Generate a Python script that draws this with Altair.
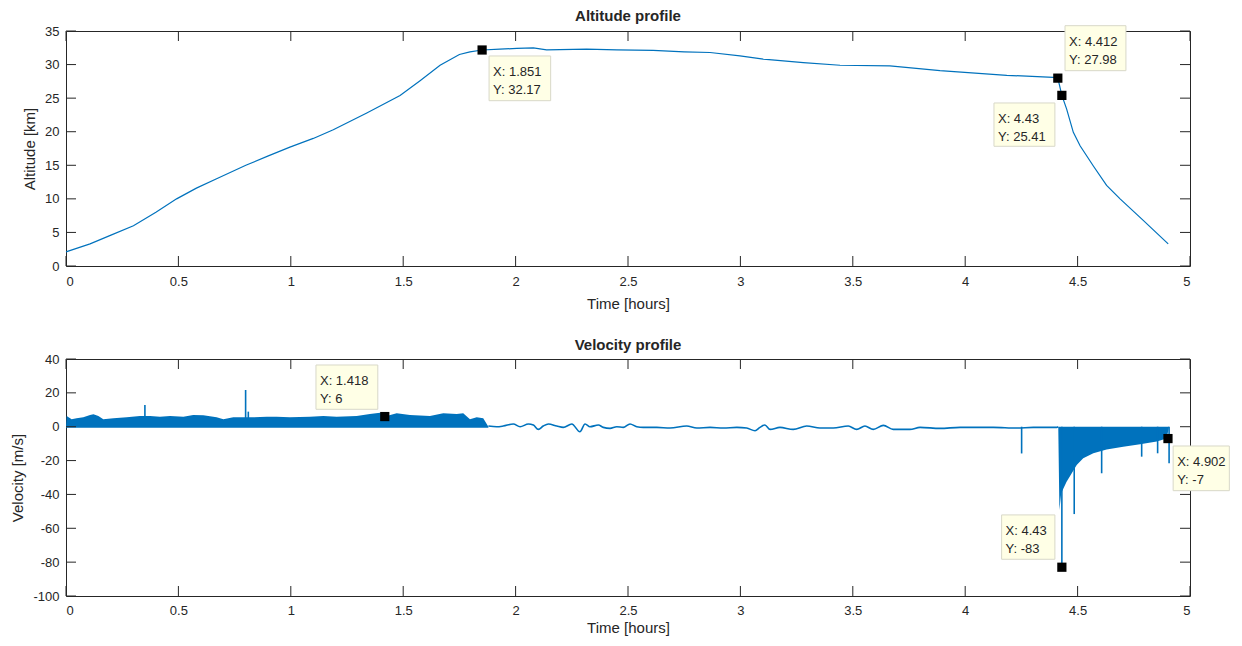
import altair as alt
import pandas as pd

# ---------------- data ----------------
# Altitude profile (time in hours, altitude in km)
alt_t = [0.0, 0.107, 0.2, 0.3, 0.4, 0.492, 0.58, 0.67, 0.8, 0.9, 0.996, 1.1, 1.189,
         1.338, 1.486, 1.575, 1.664, 1.75, 1.797, 1.851, 1.93, 2.005, 2.079, 2.138,
         2.316, 2.45, 2.612, 2.75, 2.865, 2.998, 3.102, 3.28, 3.443, 3.665, 3.888,
         4.185, 4.392, 4.412, 4.43, 4.451, 4.481, 4.511, 4.57, 4.629, 4.689, 4.792, 4.903]
alt_km = [2.1, 3.3, 4.6, 6.0, 8.0, 10.0, 11.6, 13.0, 15.0, 16.4, 17.7, 19.0, 20.3,
          22.8, 25.4, 27.6, 29.9, 31.5, 31.9, 32.17, 32.3, 32.4, 32.5, 32.2,
          32.3, 32.2, 32.1, 31.9, 31.8, 31.3, 30.8, 30.3, 29.9, 29.8, 29.1,
          28.4, 28.1, 27.98, 25.41, 23.4, 19.9, 17.9, 14.9, 12.0, 10.0, 6.8, 3.3]

# Velocity, ascent phase: upper envelope of the dense oscillation band (m/s)
velA_t = [0.0, 0.003, 0.025, 0.047, 0.077, 0.107, 0.122, 0.144, 0.166, 0.211, 0.270,
          0.329, 0.374, 0.418, 0.463, 0.522, 0.566, 0.611, 0.670, 0.700, 0.744, 0.774,
          0.833, 0.893, 0.937, 0.996, 1.085, 1.145, 1.204, 1.293, 1.352, 1.397, 1.418,
          1.471, 1.530, 1.619, 1.678, 1.738, 1.767, 1.797, 1.827, 1.856, 1.879]
velA_hi = [0.0, 6.3, 4.4, 5.0, 5.6, 6.9, 7.3, 6.3, 4.4, 5.0, 5.6,
           6.3, 6.3, 5.9, 6.3, 5.9, 6.9, 6.7, 5.6, 4.4, 5.6, 5.6,
           5.6, 5.9, 5.9, 5.6, 5.9, 6.3, 5.9, 6.3, 7.5, 8.3, 6.0,
           7.9, 6.9, 6.3, 7.9, 7.5, 7.9, 4.4, 5.6, 5.0, 0.0]

# Velocity, float phase (thin line)
velB_t = [1.879, 1.916, 1.945, 1.990, 2.020, 2.057, 2.079, 2.101, 2.123, 2.146, 2.183,
          2.212, 2.250, 2.286, 2.309, 2.331, 2.368, 2.390, 2.420, 2.450, 2.479, 2.509,
          2.539, 2.568, 2.628, 2.687, 2.761, 2.806, 2.865, 2.924, 2.984, 3.028, 3.065,
          3.087, 3.109, 3.132, 3.176, 3.235, 3.295, 3.354, 3.413, 3.480, 3.517, 3.554,
          3.591, 3.636, 3.680, 3.754, 3.799, 3.888, 3.977, 4.125, 4.229, 4.303, 4.407, 4.414]
velB_v = [0.4, 0.0, 0.4, 1.6, 0.0, 1.6, 1.0, -1.6, 0.4, 1.6, 0.4,
          -0.4, 1.6, -3.0, 1.6, 0.0, 1.0, -0.4, -1.0, 0.0, -0.4, 1.6,
          0.0, -0.4, -0.4, -0.8, 0.4, -0.8, -0.4, -0.8, -0.4, -0.8, -2.4,
          -0.4, 1.0, -1.6, -0.4, -1.6, 0.4, -0.8, -0.8, 0.4, -1.6, 0.4,
          -1.6, 0.8, -1.6, -1.6, -0.4, -1.0, -0.4, -0.4, -0.8, -0.4, -0.4, 0.0]

# Velocity, descent phase: lower envelope of the dense band (m/s)
velC_t = [4.414, 4.419, 4.427, 4.451, 4.474, 4.496, 4.525, 4.570, 4.629, 4.703,
          4.778, 4.852, 4.896, 4.907]
velC_lo = [0.0, -49.2, -39.3, -32.5, -27.5, -22.6, -18.7, -15.7, -13.4, -11.8,
           -10.4, -8.8, -6.9, 0.0]

# Isolated spikes (time, start, end)
spike_t = [0.351, 0.799, 0.811, 4.251, 4.430, 4.485, 4.607, 4.785, 4.856, 4.907]
spike_from = [5.0, 5.0, 5.0, 0.0, 0.0, 0.0, 0.0, 0.0, 0.0, 0.0]
spike_to = [12.8, 21.7, 8.9, -15.8, -83.0, -51.6, -27.5, -17.7, -15.7, -21.6]

# Data tips: point and the label box corners (data units)
tipA_x = [1.851, 4.412, 4.43]
tipA_y = [32.17, 27.98, 25.41]
tipA_label = ["X: 1.851\nY: 32.17", "X: 4.412\nY: 27.98", "X: 4.43\nY: 25.41"]
tipA_bx0 = [1.882, 4.444, 4.128]
tipA_bx1 = [2.156, 4.715, 4.399]
tipA_by0 = [31.28, 35.79, 24.28]
tipA_by1 = [24.62, 29.09, 17.83]

tipV_x = [1.418, 4.43, 4.902]
tipV_y = [6, -83, -7]
tipV_label = ["X: 1.418\nY: 6", "X: 4.43\nY: -83", "X: 4.902\nY: -7"]
tipV_bx0 = [1.112, 4.162, 4.925]
tipV_bx1 = [1.387, 4.399, 5.175]
tipV_by0 = [36.46, -52.1, -11.39]
tipV_by1 = [10.29, -78.3, -37.79]

x_ticks = [0, 0.5, 1, 1.5, 2, 2.5, 3, 3.5, 4, 4.5, 5]
altitude_ticks = [0, 5, 10, 15, 20, 25, 30, 35]
velocity_ticks = [-100, -80, -60, -40, -20, 0, 20, 40]

# ---------------- styling ----------------
W = 1124
H1 = 235
H2 = 237
TL = 10
BLUE = "#0072BD"
INK = "#262626"
FONT = "Liberation Sans"
TIP_FILL = "#FFFFE6"
TIP_STROKE = "#D8D8C8"

xscale = alt.Scale(domain=[0, 5], nice=False, zero=False)


def xaxis(label_pad, title_pad):
    return alt.Axis(values=x_ticks, title="Time [hours]", ticks=False, tickSize=0,
                    domain=False, grid=False, labelPadding=label_pad,
                    titlePadding=title_pad, labelExpr="'' + datum.value")


def yaxis(vals, title):
    return alt.Axis(values=vals, title=title, ticks=False, tickSize=0, domain=False,
                    grid=False, labelPadding=7, titlePadding=7,
                    labelExpr="'' + datum.value")


def make_panel(yscale, xax, yax):
    def X(f):
        return alt.X(f, scale=xscale, axis=xax)

    def Y(f):
        return alt.Y(f, scale=yscale, axis=yax)
    return X, Y


def tick_layers(X, Y, yvals, H):
    xdf = pd.DataFrame({"tx": x_ticks})
    ydf = pd.DataFrame({"ty": yvals})
    rule = dict(color=INK, strokeWidth=1)
    return [
        alt.Chart(xdf).mark_rule(**rule).encode(x=X("tx:Q"), y=alt.value(0), y2=alt.value(TL)),
        alt.Chart(xdf).mark_rule(**rule).encode(x=X("tx:Q"), y=alt.value(H), y2=alt.value(H - TL)),
        alt.Chart(ydf).mark_rule(**rule).encode(y=Y("ty:Q"), x=alt.value(0), x2=alt.value(TL)),
        alt.Chart(ydf).mark_rule(**rule).encode(y=Y("ty:Q"), x=alt.value(W - TL), x2=alt.value(W)),
    ]


def tip_layers(X, Y, xs, ys, labels, bx0, bx1, by0, by1):
    df = pd.DataFrame({"x": xs, "y": ys, "label": labels,
                       "bx0": bx0, "bx1": bx1, "by0": by0, "by1": by1})
    box = alt.Chart(df).mark_rect(fill=TIP_FILL, stroke=TIP_STROKE, strokeWidth=1).encode(
        x=X("bx0:Q"), x2="bx1:Q", y=Y("by0:Q"), y2="by1:Q")
    txt = alt.Chart(df).mark_text(align="left", baseline="top", dx=4, dy=10,
                                  fontSize=13, font=FONT, color=INK,
                                  lineBreak="\n", lineHeight=18).encode(
        x=X("bx0:Q"), y=Y("by0:Q"), text="label:N")
    pt = alt.Chart(df).mark_point(shape="square", filled=True, color="black",
                                  size=85, opacity=1).encode(x=X("x:Q"), y=Y("y:Q"))
    return [box, txt, pt]


# ---------------- altitude panel ----------------
yscale_a = alt.Scale(domain=[0, 35], nice=False, zero=False)
XA, YA = make_panel(yscale_a, xaxis(9, 8), yaxis(altitude_ticks, "Altitude [km]"))
alt_df = pd.DataFrame({"t": alt_t, "km": alt_km})
alt_line = alt.Chart(alt_df).mark_line(color=BLUE, strokeWidth=1.2).encode(
    x=XA("t:Q"), y=YA("km:Q"))

top = alt.layer(
    alt_line,
    *tick_layers(XA, YA, altitude_ticks, H1),
    *tip_layers(XA, YA, tipA_x, tipA_y, tipA_label, tipA_bx0, tipA_bx1, tipA_by0, tipA_by1),
).properties(width=W, height=H1,
             title=alt.TitleParams("Altitude profile", fontSize=15, fontWeight="bold",
                                   font=FONT, color=INK, offset=1))

# ---------------- velocity panel ----------------
yscale_v = alt.Scale(domain=[-100, 40], nice=False, zero=False)
XV, YV = make_panel(yscale_v, xaxis(8, 3), yaxis(velocity_ticks, "Velocity [m/s]"))
vA = pd.DataFrame({"t": velA_t, "v": velA_hi})
vB = pd.DataFrame({"t": velB_t, "v": velB_v})
vC = pd.DataFrame({"t": velC_t, "v": velC_lo})
sp = pd.DataFrame({"t": spike_t, "a": spike_from, "b": spike_to})

areaA = alt.Chart(vA).mark_area(color=BLUE, opacity=1).encode(
    x=XV("t:Q"), y=YV("v:Q"), y2=alt.datum(-0.6))
lineB = alt.Chart(vB).mark_line(color=BLUE, strokeWidth=1.6, interpolate="monotone").encode(
    x=XV("t:Q"), y=YV("v:Q"))
areaC = alt.Chart(vC).mark_area(color=BLUE, opacity=1).encode(
    x=XV("t:Q"), y=YV("v:Q"), y2=alt.datum(0))
spikes = alt.Chart(sp).mark_rule(color=BLUE, strokeWidth=1.6).encode(
    x=XV("t:Q"), y=YV("a:Q"), y2="b:Q")

bottom = alt.layer(
    areaA, lineB, areaC, spikes,
    *tick_layers(XV, YV, velocity_ticks, H2),
    *tip_layers(XV, YV, tipV_x, tipV_y, tipV_label, tipV_bx0, tipV_bx1, tipV_by0, tipV_by1),
).properties(width=W, height=H2,
             title=alt.TitleParams("Velocity profile", fontSize=15, fontWeight="bold",
                                   font=FONT, color=INK, offset=0))

chart = alt.vconcat(top, bottom, spacing=25).properties(
    padding={"left": 2, "top": 0, "right": 0, "bottom": 0}
).configure(font=FONT).configure_view(
    stroke=INK, strokeWidth=1
).configure_axis(
    labelFont=FONT, labelFontSize=13, labelColor=INK,
    titleFont=FONT, titleFontSize=15, titleColor=INK, titleFontWeight="normal"
)

chart.save("out.html", embed_options={"renderer": "svg", "actions": False})
